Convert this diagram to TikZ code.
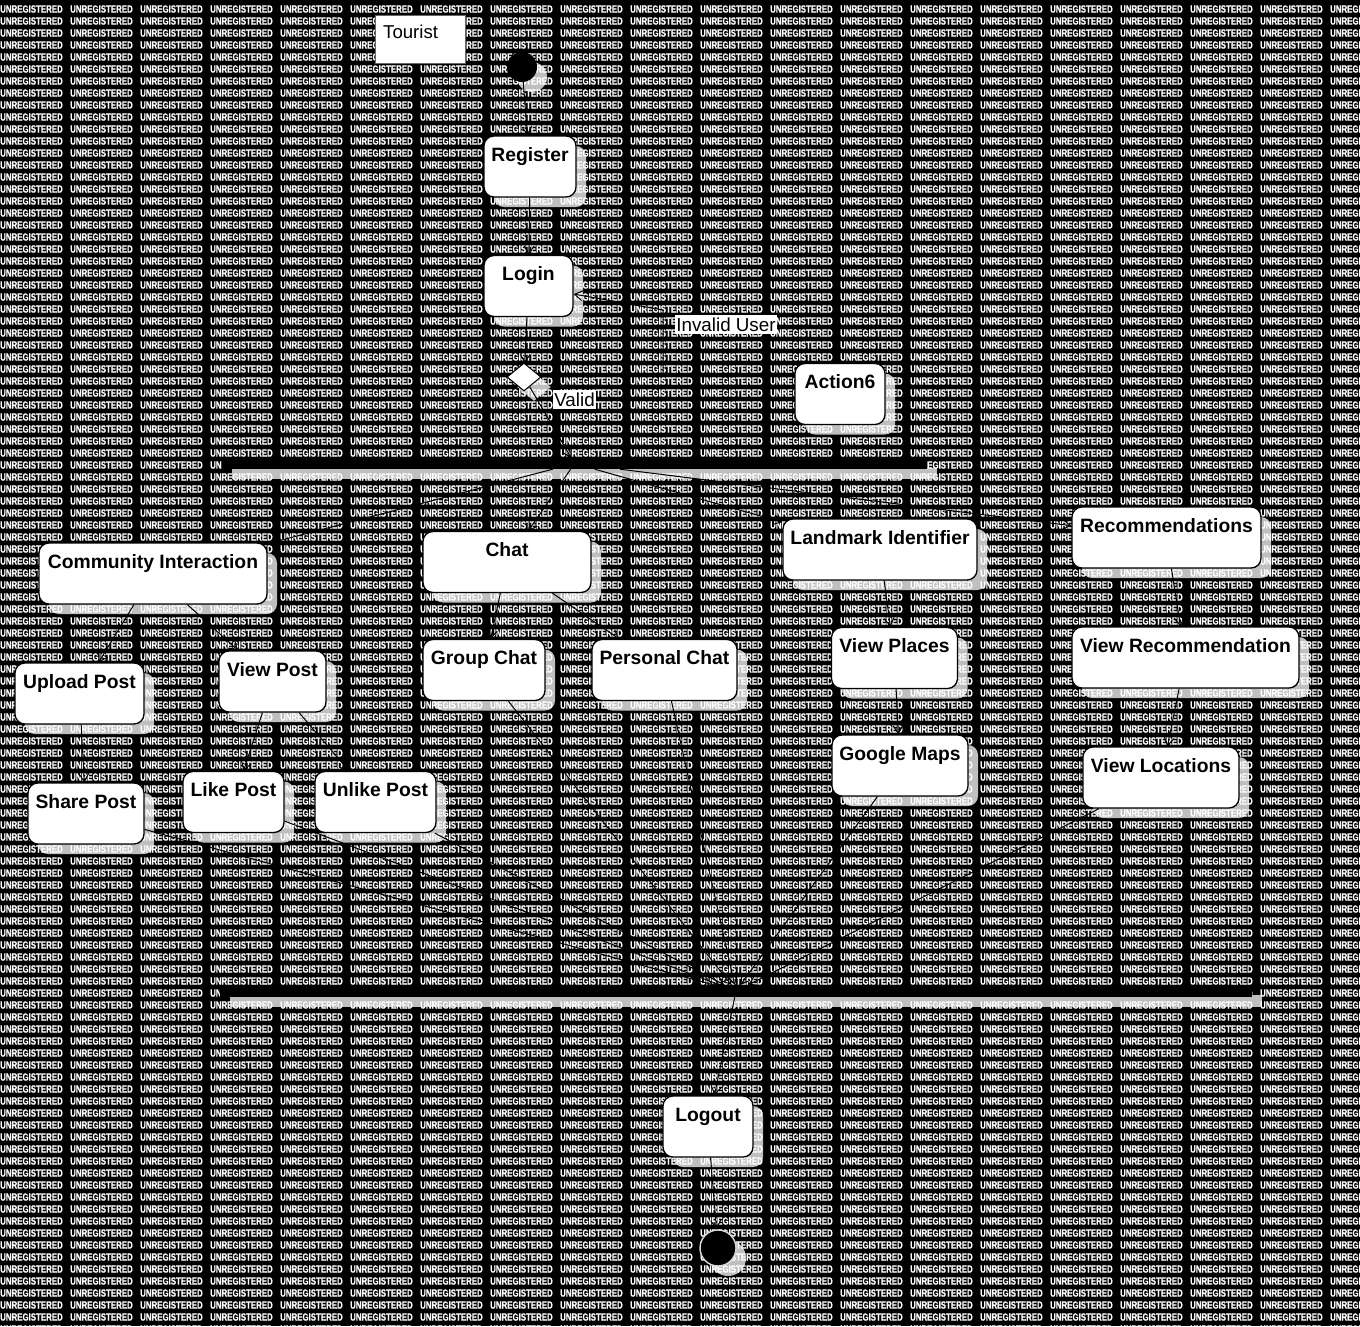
\documentclass[tikz,border=0pt]{standalone}
\usepackage{fontspec}
\setmainfont{Liberation Sans}
\newfontfamily\wmfont[FakeStretch=0.75,FakeBold=0.8]{Liberation Sans}
\usetikzlibrary{arrows.meta,shapes.geometric,shadows}
\newcommand\wmunit{\makebox[70pt][l]{UNREGISTERED}}
\newcommand\wmline{\wmunit\wmunit\wmunit\wmunit\wmunit\wmunit\wmunit\wmunit\wmunit\wmunit\wmunit\wmunit\wmunit\wmunit\wmunit\wmunit\wmunit\wmunit\wmunit\wmunit}
\begin{document}
\begin{tikzpicture}[x=1pt,y=-1pt,
  wm/.style={anchor=west, inner sep=0pt, text=white, font=\wmfont\bfseries\fontsize{10.5}{11}\selectfont},
  sh/.style={drop shadow={shadow xshift=10pt, shadow yshift=-10pt, fill=white, opacity=0.75, draw=none}},
  box/.style={sh, draw=black, line width=1.3pt, fill=white, rounded corners=10pt, inner sep=0pt,
    font=\bfseries\fontsize{19.3}{20}\selectfont, text height=25pt, text depth=36pt},
  barnode/.style={sh, fill=black, draw=none, inner sep=0pt},
  lbl/.style={fill=white, inner sep=1pt, minimum height=19pt, font=\fontsize{18.8}{19}\selectfont},
  conn/.style={draw=black, line width=1pt, -{Straight Barb[length=8pt,width=10pt]}}
]
\useasboundingbox (0,0) rectangle (1360,1326);
\clip (0,0) rectangle (1360,1326);
\fill[black] (0,0) rectangle (1360,1326);
\foreach \r in {0,...,110} { \node[wm] (wm\r) at (0,{9+12*\r}) {\wmline}; }

% title box
\node[draw=black!60, fill=white, line width=0.8pt, minimum width=90pt, minimum height=48pt, inner sep=0pt] (touristbox) at (420,39) {};
\node[anchor=base west, inner sep=0pt, font=\fontsize{18.6}{19}\selectfont] (tourist) at (383,38) {Tourist};

% initial node
\node[sh, circle, fill=black, minimum size=30pt, inner sep=0pt] (init) at (522,67) {};

% action boxes
\node[box, minimum width=92pt]  (register) at (530,166.5) {Register};
\node[box, minimum width=89pt]  (login) at (528.5,286) {Login};
\node[sh, diamond, draw=black, line width=1pt, fill=white, minimum width=34pt, minimum height=28pt, inner sep=0pt] (dec) at (524,377) {};
\node[box, minimum width=90pt]  (action6) at (840,394) {Action6};

\node[barnode, minimum width=705pt, minimum height=11pt] (fork) at (574.5,463.5) {};

\node[box, minimum width=228pt] (ci) at (153,573.5) {Community Interaction};
\node[box, minimum width=168pt] (chat) at (507,562) {Chat};
\node[box, minimum width=194pt] (landmark) at (880,549.5) {Landmark Identifier};
\node[box, minimum width=189pt] (recs) at (1166.5,537.5) {Recommendations};

\node[box, minimum width=129pt] (upload) at (79.5,693.5) {Upload Post};
\node[box, minimum width=107pt] (viewpost) at (272.5,681.5) {View Post};
\node[box, minimum width=122pt] (groupchat) at (484,670) {Group Chat};
\node[box, minimum width=145pt] (personal) at (664.5,670) {Personal Chat};
\node[box, minimum width=126pt] (viewplaces) at (894.5,658) {View Places};
\node[box, minimum width=227pt] (viewrec) at (1185.5,657.5) {View Recommendation};

\node[box, minimum width=116pt] (share) at (86,813.5) {Share Post};
\node[box, minimum width=101pt] (like) at (233.5,802) {Like Post};
\node[box, minimum width=121pt] (unlike) at (375.5,802) {Unlike Post};
\node[box, minimum width=136pt] (gmaps) at (900,765.5) {Google Maps};
\node[box, minimum width=156pt] (viewloc) at (1161,777.5) {View Locations};

\node[barnode, minimum width=1032pt, minimum height=12pt] (join) at (736,991) {};

\node[box, minimum width=90pt] (logout) at (708,1126.5) {Logout};

% final node
\node[sh, circle, fill=black, draw=black!15, line width=1.4pt, minimum size=36pt, inner sep=0pt] (final) at (718,1248) {};
\node[circle, fill=black, minimum size=22pt, inner sep=0pt] (finalin) at (718,1248) {};

% connectors
\draw[conn] (init) -- (register);
\draw[conn] (register) -- (login);
\draw[conn] (login) -- (dec);
\coordinate (inv1) at (663,376);
\coordinate (inv2) at (663,310);
\draw[conn] (dec) -- (inv1) -- (inv2) -- (login);
\draw[conn] (dec) -- (fork);
\foreach \t in {ci,chat,landmark,recs} { \draw[conn] (fork) -- (\t); }
\draw[conn] (ci) -- (upload);
\draw[conn] (ci) -- (viewpost);
\draw[conn] (chat) -- (groupchat);
\draw[conn] (chat) -- (personal);
\draw[conn] (landmark) -- (viewplaces);
\draw[conn] (viewplaces) -- (gmaps);
\draw[conn] (recs) -- (viewrec);
\draw[conn] (viewrec) -- (viewloc);
\draw[conn] (upload) -- (share);
\draw[conn] (viewpost) -- (like);
\draw[conn] (viewpost) -- (unlike);
\foreach \s in {share,like,unlike,groupchat,personal,gmaps,viewloc} { \draw[conn] (\s) -- (join); }
\draw[conn] (join) -- (logout);
\draw[conn] (logout) -- (final);

% guard labels
\node[lbl, minimum width=102pt] (invalid) at (726,324.5) {Invalid User};
\node[lbl, minimum width=43pt] (valid) at (574.5,399.5) {Valid};
\end{tikzpicture}
\end{document}
